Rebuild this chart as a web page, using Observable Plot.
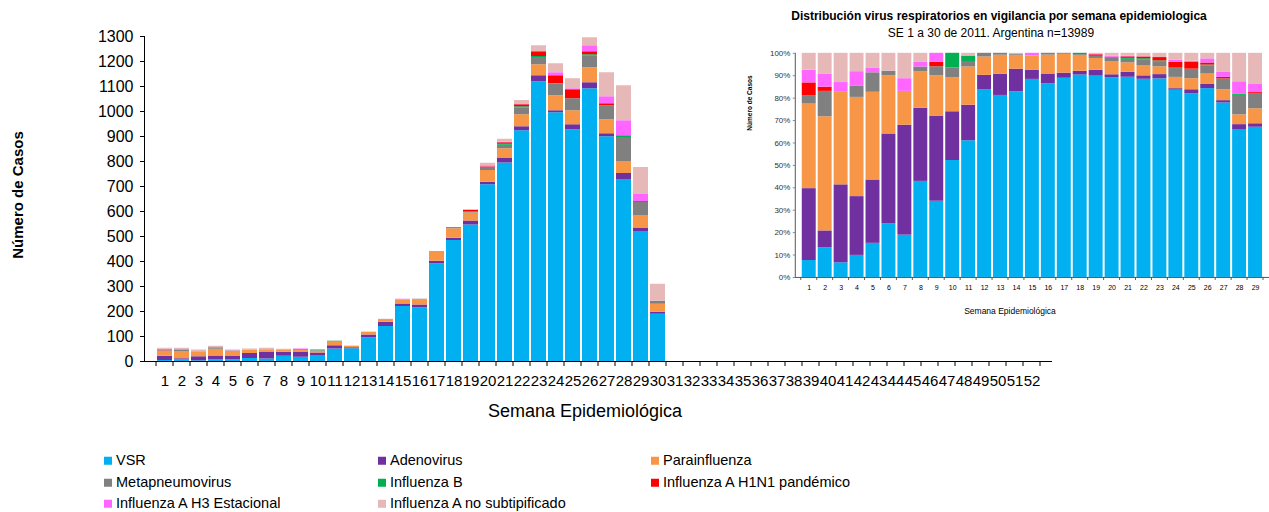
<!DOCTYPE html>
<html><head><meta charset="utf-8">
<script src="https://cdn.jsdelivr.net/npm/d3@7"></script>
<script src="https://cdn.jsdelivr.net/npm/@observablehq/plot@0.6"></script>
<style>
body{margin:0;background:#fff;font-family:"Liberation Sans",Arial,sans-serif;}
#wrap{position:relative;width:1269px;height:512px;overflow:hidden;background:#fff;}
#main,#inset{position:absolute;top:0;}
#main{left:0}
#inset{left:740px}
.abs{position:absolute;white-space:nowrap;color:#000;line-height:1;}
.ctr{transform:translate(-50%,-50%);}
.rot{transform:translate(-50%,-50%) rotate(-90deg);}
.leg{position:absolute;font-size:14.5px;line-height:1;white-space:nowrap;transform:translateY(-50%);}
.leg span{display:inline-block;width:8px;height:8px;margin-right:4px;vertical-align:0px;}
</style></head><body>
<div id="wrap">
  <div id="main"></div>
  <div id="inset"></div>
  <div class="abs rot" style="left:17px;top:195px;font-size:15px;font-weight:bold;">Número de Casos</div>
  <div class="abs ctr" style="left:585px;top:411px;font-size:18px;">Semana Epidemiológica</div>
  <div class="abs ctr" style="left:999px;top:16px;font-size:12px;font-weight:bold;">Distribución virus respiratorios en vigilancia por semana epidemiologica</div>
  <div class="abs ctr" style="left:991px;top:33px;font-size:12px;">SE 1 a 30 de 2011. Argentina n=13989</div>
  <div class="abs rot" style="left:750px;top:103px;font-size:6.5px;font-weight:bold;">Número de Casos</div>
  <div class="abs ctr" style="left:1010px;top:311px;font-size:8.5px;">Semana Epidemiológica</div>
  <div id="legend"></div>
</div>
<script>
// ---- data ----
const weeks = d3.range(1, 53);            // x-axis categories 1..52
const dataWeeks = d3.range(1, 31);        // weeks with data (1..30)
const insetWeeks = d3.range(1, 30);       // inset shows 1..29
const seriesNames = ["VSR", "Adenovirus", "Parainfluenza", "Metapneumovirus", "Influenza B",
  "Influenza A H1N1 pandémico", "Influenza A H3 Estacional", "Influenza A no subtipificado"];
const seriesColors = ["#00B0F0", "#7030A0", "#F79646", "#808080", "#00B050", "#FF0000", "#FF66FF", "#E6B9B8"];

const VSR    = [4,7,3,6,7,12,10,21,17,24,50,51,95,140,220,215,391,484,546,707,794,923,1119,995,927,1091,899,728,520,189];
const Adeno  = [17,4,16,16,13,20,26,16,19,10,13,4,11,17,10,11,10,9,16,10,20,16,24,8,20,24,12,24,12,8];
const Para   = [20,27,19,27,18,13,8,8,9,7,14,5,10,10,16,21,37,38,32,47,37,48,44,60,56,60,56,48,52,32];
const Meta   = [2,6,0,3,4,1,0,1,2,2,2,1,1,1,0,2,2,2,6,13,14,27,29,47,48,48,56,96,53,12];
const FluB   = [0,0,0,0,0,0,0,0,0,3,2,0,0,0,0,0,0,3,0,0,4,5,4,2,0,4,0,7,0,0];
const H1N1   = [3,1,0,0,0,0,0,0,1,0,0,0,0,0,0,0,0,0,4,2,6,8,19,31,36,12,8,0,3,0];
const H3     = [3,3,2,4,1,0,3,1,2,0,0,0,0,0,3,0,0,0,1,4,2,1,0,12,4,24,28,60,28,0];
const NoSub  = [4,5,6,5,3,4,6,2,0,0,1,0,0,1,0,0,0,0,3,10,12,16,24,36,40,32,96,140,108,68];
const seriesValues = [VSR, Adeno, Para, Meta, FluB, H1N1, H3, NoSub];

const yTicks = d3.range(0, 1301, 100);
const pctTicks = d3.range(0, 11).map(d => d / 10);

// tidy rows
const rows = [];
seriesNames.forEach((s, i) => dataWeeks.forEach((w, j) => rows.push({week: w, series: s, value: seriesValues[i][j]})));
const insetRows = rows.filter(r => r.week <= 29);

const FONT = "Liberation Sans, Arial, sans-serif";

// ---- main chart ----
const main = Plot.plot({
  width: 1269, height: 430,
  marginLeft: 144, marginRight: 217, marginTop: 36, marginBottom: 69,
  style: {background: "transparent", fontFamily: FONT, color: "#000", overflow: "visible"},
  x: {type: "band", domain: weeks, paddingInner: 0.14, paddingOuter: 0.07, label: null},
  y: {domain: [0, 1300], label: null},
  color: {domain: seriesNames, range: seriesColors},
  marks: [
    Plot.barY(rows, {x: "week", y: "value", fill: "series", order: seriesNames}),
    Plot.axisY({ticks: yTicks, tickFormat: d3.format("d"), tickSize: 4, tickPadding: 7, fontSize: 16, label: null, stroke: "#000", strokeOpacity: 1}),
    Plot.axisX({tickSize: 0, tickPadding: 14, fontSize: 15, label: null})
  ]
});
document.getElementById("main").appendChild(main);

function addAxes(svg, chart, tickLen, color, yTop) {
  const sx = chart.scale("x"), sy = chart.scale("y");
  const gap = (sx.step - sx.bandwidth) / 2;
  const bounds = sx.domain.map(w => sx.apply(w) - gap);
  bounds.push(sx.apply(sx.domain[sx.domain.length - 1]) + sx.bandwidth + gap);
  const y0 = sy.apply(0);
  const g = d3.select(svg).append("g").attr("stroke", color).attr("stroke-width", 1);
  g.append("line").attr("x1", sx.range[0]).attr("x2", sx.range[1]).attr("y1", y0 + 0.5).attr("y2", y0 + 0.5);
  g.append("line").attr("x1", sx.range[0] + 0.5).attr("x2", sx.range[0] + 0.5).attr("y1", sy.apply(yTop)).attr("y2", y0);
  bounds.forEach(b => g.append("line").attr("x1", b).attr("x2", b).attr("y1", y0).attr("y2", y0 + tickLen));
}
addAxes(main, main, 5, "#000", 1300);

// ---- inset chart (100% stacked) ----
const inset = Plot.plot({
  width: 531, height: 330,
  marginLeft: 55, marginRight: 0, marginTop: 53, marginBottom: 52,
  style: {background: "transparent", fontFamily: FONT, color: "#333", overflow: "visible"},
  x: {type: "band", domain: insetWeeks, paddingInner: 0.11, paddingOuter: 0.05, label: null},
  y: {domain: [0, 1], label: null},
  color: {domain: seriesNames, range: seriesColors},
  marks: [
    Plot.barY(insetRows, {x: "week", y: "value", fill: "series", offset: "normalize", order: seriesNames}),
    Plot.axisY({ticks: pctTicks, tickFormat: d3.format(".0%"), tickSize: 2, tickPadding: 3, fontSize: 8, label: null, stroke: "#888"}),
    Plot.axisX({tickSize: 0, tickPadding: 8, fontSize: 7, label: null, fill: "#000"})
  ]
});
document.getElementById("inset").appendChild(inset);
addAxes(inset, inset, 3, "#555", 1);

// ---- legend ----
const legend = document.getElementById("legend");
const colX = [104, 378, 651], rowY = [460, 482, 503];
seriesNames.forEach((s, i) => {
  const d = document.createElement("div");
  d.className = "leg";
  d.style.left = colX[i % 3] + "px";
  d.style.top = rowY[Math.floor(i / 3)] + "px";
  d.innerHTML = `<span style="background:${seriesColors[i]}"></span>${s}`;
  legend.appendChild(d);
});
</script>
</body></html>
